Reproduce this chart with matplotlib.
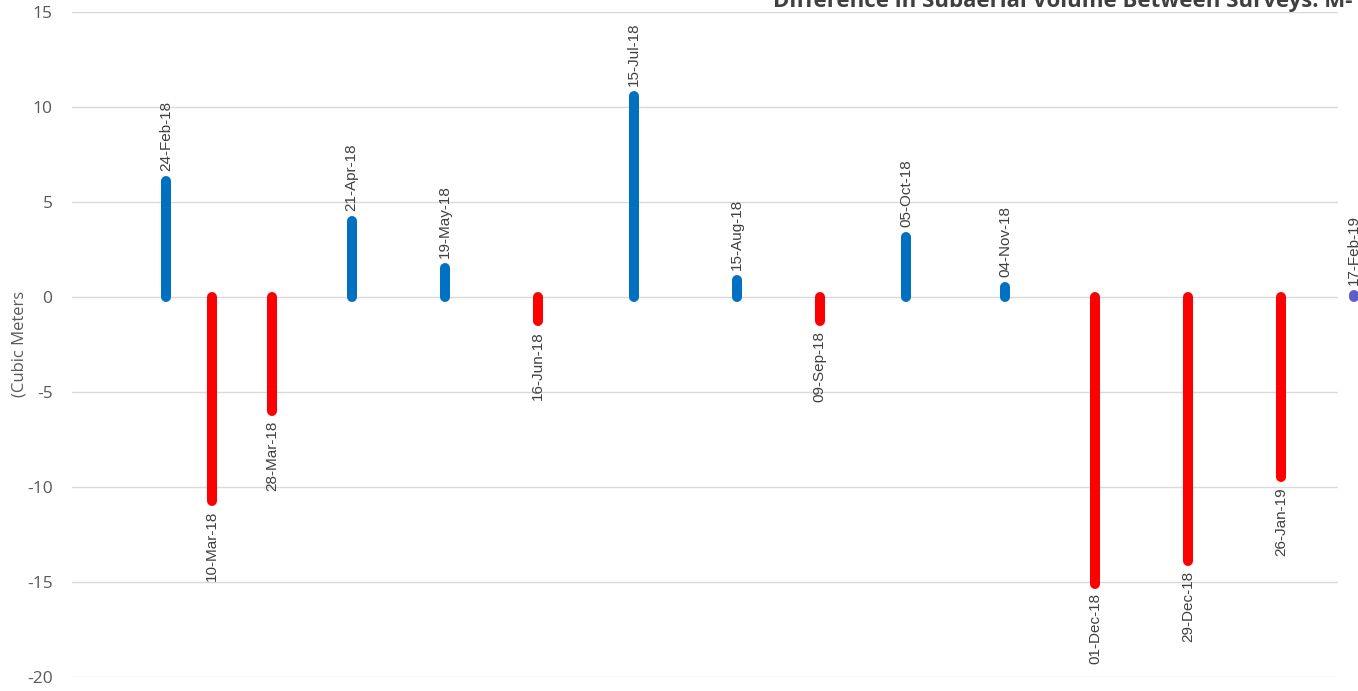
import matplotlib
matplotlib.use("Agg")
import matplotlib.pyplot as plt
import matplotlib.dates as mdates
from datetime import datetime

# Survey dates and change in subaerial volume since the previous survey (m³)
survey_dates = [
    "2018-02-24", "2018-03-10", "2018-03-28", "2018-04-21", "2018-05-19",
    "2018-06-16", "2018-07-15", "2018-08-15", "2018-09-09", "2018-10-05",
    "2018-11-04", "2018-12-01", "2018-12-29", "2019-01-26", "2019-02-17",
]
volume_change = [
    6.1, -10.75, -6.0, 4.0, 1.5,
    -1.3, 10.55, 0.9, -1.3, 3.15,
    0.5, -15.1, -13.9, -9.5, 0.1,
]
y_ticks = [15, 10, 5, 0, -5, -10, -15, -20]

title_text = "Difference in Subaerial Volume Between Surveys: M-"
y_label_text = "(Cubic Meters"

GAIN = "#0070C0"
LOSS = "#FF0000"
LATEST = "#5B5FC9"
GRID = "#D9D9D9"
TEXT = "#404040"
TICK = "#595959"

W, H = 1358, 691
fig = plt.figure(figsize=(W / 100, H / 100), dpi=100)
fig.patch.set_facecolor("white")

left, right = 72 / W, 1338 / W
bottom, top = 1 - 676.7 / H, 1 - 11.7 / H
ax = fig.add_axes([left, bottom, right - left, top - bottom])

dates = [datetime.strptime(d, "%Y-%m-%d") for d in survey_dates]
xnum = mdates.date2num(dates)

first = xnum[0]
ax.set_xlim(first - 28.3, first + 353.2)
ax.set_ylim(-20, 15)

for i, (x, v, d) in enumerate(zip(xnum, volume_change, dates)):
    if i == len(xnum) - 1:
        color = LATEST
    else:
        color = GAIN if v >= 0 else LOSS
    ax.plot([x, x], [0, v], color=color, lw=7.2, solid_capstyle="round",
            clip_on=False, zorder=3)
    label = d.strftime("%d-%b-%y")
    if v >= 0:
        ax.annotate(label, (x, v), xytext=(0, 7.2), textcoords="offset points",
                    rotation=90, ha="center", va="bottom", fontsize=11,
                    family="Liberation Sans", color=TEXT, annotation_clip=False)
    else:
        ax.annotate(label, (x, v), xytext=(0, -7.0), textcoords="offset points",
                    rotation=90, ha="center", va="top", fontsize=11,
                    family="Liberation Sans", color=TEXT, annotation_clip=False)

ax.set_yticks(y_ticks)
ax.set_yticklabels([str(t) for t in y_ticks], family="Open Sans", fontsize=12.5,
                   color=TICK)
ax.tick_params(axis="y", length=0, pad=14)
ax.set_xticks([])
ax.yaxis.grid(True, color=GRID, lw=1.0)
ax.set_axisbelow(True)
for s in ax.spines.values():
    s.set_visible(False)

fig.text(20 / W, 1 - 344 / H, y_label_text, rotation=90, ha="center",
         va="center", family="Open Sans", fontsize=12, color=TICK)

fig.text(773 / W, 1 - 7 / H, title_text, ha="left", va="baseline",
         family="Open Sans", fontweight="bold", fontsize=16, color=TEXT)

fig.savefig("out.png", dpi=100, facecolor="white")
